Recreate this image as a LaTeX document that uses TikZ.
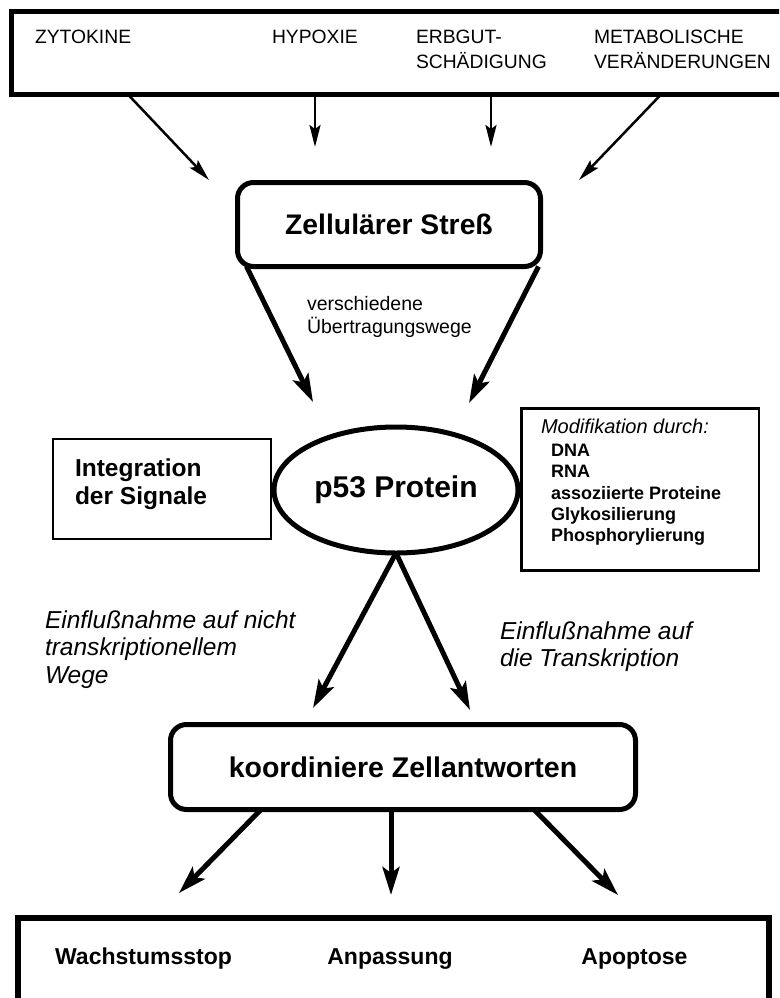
\documentclass[tikz,border=0pt]{standalone}
\usepackage{fontspec}
\setmainfont{Liberation Sans}
\usetikzlibrary{arrows.meta,shapes.geometric}
\newcommand{\fsz}[2]{\fontsize{#1}{#2}\selectfont}
\begin{document}
\begin{tikzpicture}[x=1pt,y=-1pt,inner sep=0pt,outer sep=0pt,
  thickbox/.style={draw,line width=5pt,rounded corners=16pt},
  thinbox/.style={draw,line width=2.5pt},
  thinarr/.style={line width=2.5pt,-{Stealth[length=22pt,width=11pt,inset=4pt]}},
  thickarr/.style={line width=5pt,-{Stealth[length=28pt,width=17pt,inset=6pt]}},
  toptext/.style={font=\fsz{19.3}{25},anchor=base west},
  bottext/.style={font=\bfseries\fsz{23}{25},anchor=base}]
\useasboundingbox (0,0) rectangle (779,998);
\clip (0,0) rectangle (779,998);

% top box
\node[draw,line width=5.5pt,minimum width=778.5pt,minimum height=83pt] (topbox) at (400.75,53) {};
\node[toptext] (zyto) at (35,44) {ZYTOKINE};
\node[toptext] (hypo) at (272,44) {HYPOXIE};
\node[toptext] (erb1) at (416,44) {ERBGUT-};
\node[toptext] (erb2) at (416,69) {SCHÄDIGUNG};
\node[toptext] (met1) at (594,44) {METABOLISCHE};
\node[toptext] (met2) at (594,69) {VERÄNDERUNGEN};

% stress box
\node[thickbox,minimum width=303pt,minimum height=84pt,font=\bfseries\fsz{28.3}{30}] (stress) at (389,224.5) {Zellulärer Streß};

\coordinate (e1) at (209,180);
\coordinate (e2) at (315,147);
\coordinate (e3) at (491,147);
\coordinate (e4) at (579,180);
\draw[thinarr] ([xshift=116.5pt]topbox.south west) -- (e1);
\draw[thinarr] ([xshift=303.5pt]topbox.south west) -- (e2);
\draw[thinarr] ([xshift=479.5pt]topbox.south west) -- (e3);
\draw[thinarr] ([xshift=649.5pt]topbox.south west) -- (e4);

\node[font=\fsz{19.5}{23},align=left,anchor=west] (wege) at (307,316.5) {verschiedene\\Übertragungswege};

% p53
\node[draw,ellipse,line width=5pt,minimum width=244pt,minimum height=126pt,font=\bfseries\fsz{30}{32}] (p53) at (396,490) {p53 Protein};

\coordinate (p1) at (313,402);
\coordinate (p2) at (469,403);
\draw[thickarr] ([xshift=9pt]stress.south west) -- (p1);
\draw[thickarr] ([xshift=-2pt]stress.south east) -- (p2);

% integration box
\node[thinbox,minimum width=218pt,minimum height=100pt] (integ) at (162,489) {};
\node[font=\bfseries\fsz{24.5}{28},align=left,anchor=west] (integtext) at (75,484.6) {Integration\\der Signale};

% modification box
\node[thinbox,minimum width=237.5pt,minimum height=162.3pt] (mod) at (640.3,489.5) {};
\node[font=\itshape\fsz{20}{22},anchor=base west] (modtitle) at (541,433) {Modifikation durch:};
\node[font=\bfseries\fsz{18}{21.3},align=left,anchor=west] (modlist) at (551,494.8) {DNA\\RNA\\assoziierte Proteine\\Glykosilierung\\Phosphorylierung};

% arrows from p53
\coordinate (q1) at (313,708);
\coordinate (q2) at (470,710);
\draw[thickarr] (p53.south) -- (q1);
\draw[thickarr] (p53.south) -- (q2);

\node[font=\itshape\fsz{24.5}{27.5},align=left,anchor=west] (lab1) at (45,649.4) {Einflußnahme auf nicht\\transkriptionellem\\Wege};
\node[font=\itshape\fsz{24.5}{27},align=left,anchor=west] (lab2) at (500,647.1) {Einflußnahme auf\\die Transkription};

% koordiniere box
\node[thickbox,minimum width=465pt,minimum height=85pt,font=\bfseries\fsz{28.5}{30}] (koord) at (403,767) {koordiniere Zellantworten};

\coordinate (r1) at (179,893);
\coordinate (r2) at (391,895);
\coordinate (r3) at (618,895);
\draw[thickarr] ([xshift=90.5pt]koord.south west) -- (r1);
\draw[thickarr] ([xshift=220.5pt]koord.south west) -- (r2);
\draw[thickarr] ([xshift=363.5pt]koord.south west) -- (r3);

% bottom box
\node[draw,line width=6pt,minimum width=751pt,minimum height=92pt] (botbox) at (393.5,964) {};
\node[bottext] (wach) at (143.5,964) {Wachstumsstop};
\node[bottext] (anp) at (390,964) {Anpassung};
\node[bottext] (apo) at (634.5,964) {Apoptose};
\end{tikzpicture}
\end{document}
